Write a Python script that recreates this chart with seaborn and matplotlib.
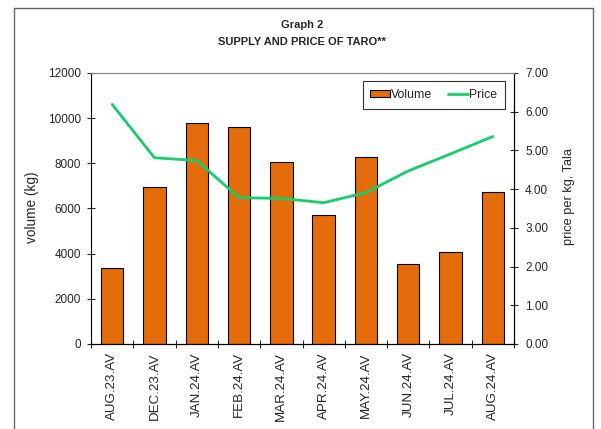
import matplotlib
matplotlib.use("Agg")
import matplotlib.pyplot as plt
import seaborn as sns
import numpy as np
import pandas as pd
from matplotlib.lines import Line2D
from matplotlib.patches import Patch
from matplotlib.ticker import FixedLocator

months = ["AUG.23.AV", "DEC.23.AV", "JAN.24.AV", "FEB.24.AV", "MAR.24.AV",
          "APR.24.AV", "MAY.24.AV", "JUN.24.AV", "JUL.24.AV", "AUG.24.AV"]
volume = [3350, 6970, 9780, 9600, 8080, 5720, 8260, 3540, 4070, 6750]
price = [6.19, 4.81, 4.74, 3.78, 3.76, 3.65, 3.91, 4.47, 4.91, 5.36]

sns.set_style("white")
plt.rcParams['font.family'] = ['Liberation Sans', 'DejaVu Sans']

W, H = 601, 429
fig = plt.figure(figsize=(W / 100, H / 100), dpi=100)
ax = fig.add_axes([91 / W, (H - 344) / H, (514 - 91) / W, (344 - 73) / H])

df = pd.DataFrame({"month": months, "volume": volume, "price": price})
bar_color = "#E46C0A"
line_color = "#14CF6A"

sns.barplot(data=df, x="month", y="volume", color=bar_color, saturation=1,
            width=0.53, edgecolor="black", linewidth=0.8, ax=ax)
ax.set_xlim(-0.5, len(months) - 0.5)
ax.set_ylim(0, 12000)
ax.set_yticks(range(0, 12001, 2000))
ax.set_xlabel("")
ax.set_ylabel("volume (kg)", fontsize=9.8)
ax.yaxis.set_label_coords((39 - 91) / (514 - 91), (344 - 207) / (344 - 73))
ax.tick_params(axis="y", direction="inout", length=6, width=0.8, labelsize=8.5, pad=4, left=True)
ax.tick_params(axis="x", which="major", length=0, labelsize=9.6, pad=6, rotation=90, bottom=True)
ax.xaxis.set_minor_locator(FixedLocator(np.arange(-0.5, len(months), 1.0)))
ax.tick_params(axis="x", which="minor", direction="inout", length=6, width=0.8, bottom=True)

ax2 = ax.twinx()
sns.lineplot(data=df, x="month", y="price", sort=False, color=line_color,
             linewidth=2.0, ax=ax2)
ax2.set_ylim(0, 7)
ax2.set_yticks(np.arange(0, 7.01, 1))
ax2.set_yticklabels([f"{v:.2f}" for v in np.arange(0, 7.01, 1)])
ax2.set_ylabel("price per kg, Tala", fontsize=9.2)
ax2.yaxis.set_label_coords((563 - 91) / (514 - 91), (344 - 197) / (344 - 73))
ax2.tick_params(axis="y", direction="inout", length=6, width=0.8, labelsize=8.5, pad=5, right=True)
ax.set_xlim(-0.5, len(months) - 0.5)

for a in (ax, ax2):
    for s in ("left", "right", "bottom"):
        a.spines[s].set_color("black")
        a.spines[s].set_linewidth(0.8)
    a.spines["top"].set_color("#888888")
    a.spines["top"].set_linewidth(0.8)
ax2.spines["left"].set_visible(False)

handles = [Patch(facecolor=bar_color, edgecolor="black", linewidth=0.8),
           Line2D([0], [0], color=line_color, linewidth=2.0)]
leg = ax2.legend(handles, ["Volume", "Price"], ncol=2, loc="upper right",
                 bbox_to_anchor=((505 - 91) / (514 - 91), (344 - 81) / (344 - 73)),
                 frameon=True, fancybox=False, fontsize=8.8, handlelength=1.6,
                 handleheight=0.55, handletextpad=0.1, columnspacing=1.3,
                 borderpad=0.65, borderaxespad=0)
leg.get_frame().set_edgecolor("black")
leg.get_frame().set_linewidth(0.8)

fig.text(0.5 * (91 + 514) / W, 1 - 25 / H, "Graph 2", ha="center", va="center",
         fontsize=8, fontweight="bold")
fig.text(0.5 * (91 + 514) / W, 1 - 42 / H, "SUPPLY AND PRICE OF TARO**", ha="center",
         va="center", fontsize=8, fontweight="bold")

bc = "#666666"
fig.add_artist(Line2D([14 / W, 14 / W], [0, 1 - 8 / H], color=bc, lw=1.0))
fig.add_artist(Line2D([14 / W, 593 / W], [1 - 8 / H, 1 - 8 / H], color=bc, lw=1.0))
fig.add_artist(Line2D([593 / W, 593 / W], [0, 1 - 8 / H], color=bc, lw=1.0))

fig.savefig("out.png", dpi=100, facecolor="white")
